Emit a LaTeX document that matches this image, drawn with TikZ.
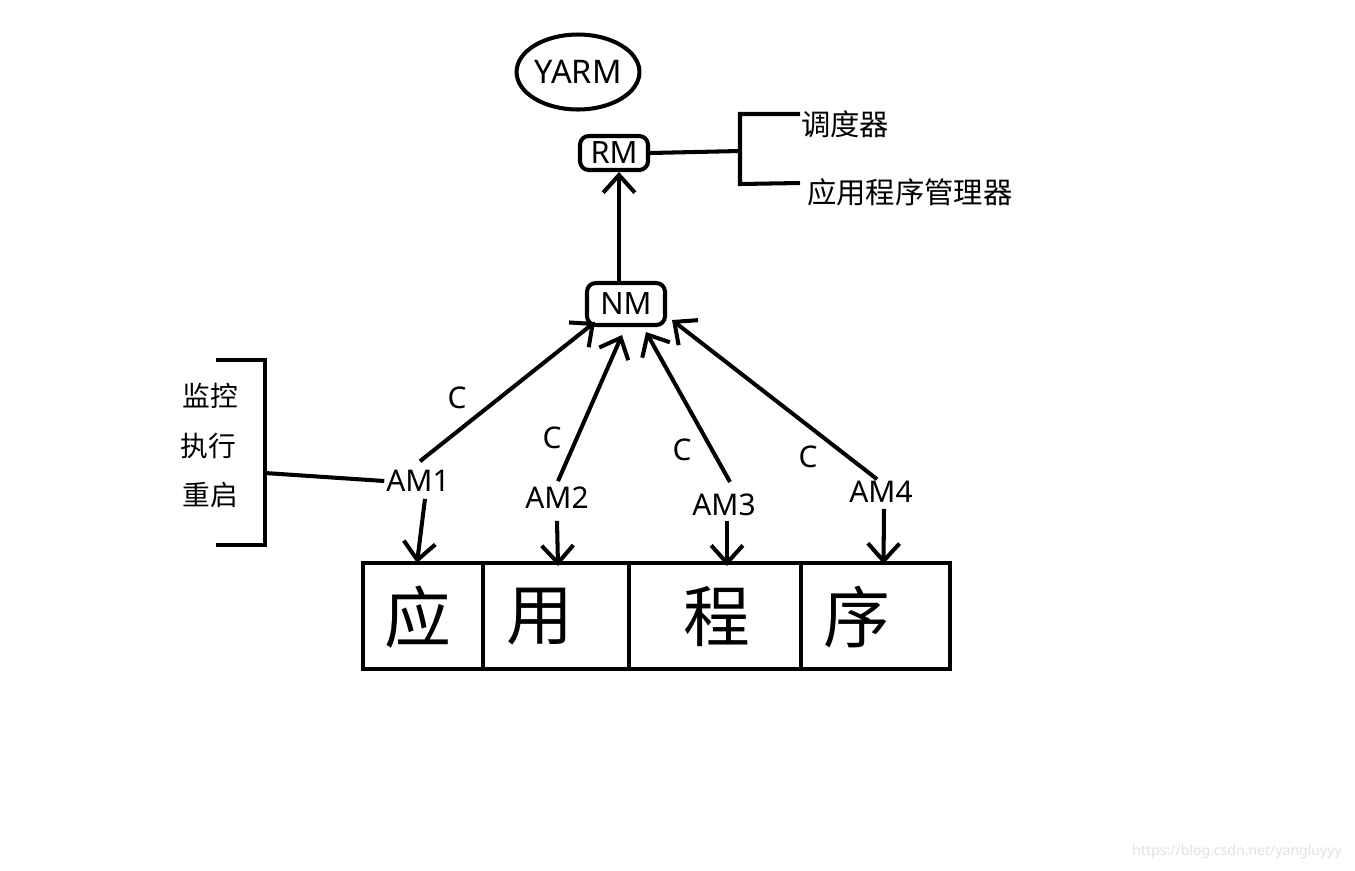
\documentclass[tikz,border=0pt]{standalone}
\usepackage{fontspec}
\setmainfont{Noto Sans}
\newfontfamily\cjk{Noto Sans CJK SC}
\usepackage{tikz}
\usetikzlibrary{positioning}
\usetikzlibrary{shapes.geometric}
\usetikzlibrary{arrows.meta}

\begin{document}
\begin{tikzpicture}[x=0.02cm, y=-0.02cm,
ovalnode/.style={ellipse, draw=black, line width=2.3pt, inner sep=0pt, minimum width=2.44cm, minimum height=1.5cm, font=\fontsize{18.5}{21}\selectfont},
roundnode/.style={rectangle, rounded corners=5pt, draw=black, line width=2.3pt, inner sep=0pt, font=\fontsize{17.5}{20}\selectfont},
amnode/.style={inner sep=1pt, font=\fontsize{17}{20}\selectfont},
cnode/.style={inner sep=1pt, font=\fontsize{17}{20}\selectfont},
cjknode/.style={inner sep=1pt, font=\cjk\fontsize{16.7}{19}\selectfont},
cellnode/.style={rectangle, draw=black, line width=2.3pt, minimum height=2.12cm, inner sep=0pt},
bigchar/.style={inner sep=0pt, font=\cjk\fontsize{38}{40}\selectfont},
arr/.style={line width=2.3pt, -{Straight Barb[length=10pt,width=18pt,line width=2.3pt]}},
thickline/.style={line width=2.3pt},
]
\useasboundingbox (0,0) rectangle (1355,870);

% Top nodes
\node[ovalnode]  (yarm) at (578,72)  {YARM};
\node[roundnode, minimum width=1.36cm, minimum height=0.68cm] (rm) at (614,153) {RM};
\node[roundnode, minimum width=1.56cm, minimum height=0.84cm] (nm) at (626,304) {NM};

% RM parts
\coordinate (rb) at (740,151);
\draw[thickline] (800,114) -- (740,114) -- (740,184) -- (800,183);
\node[cjknode, anchor=west] (sched)  at (799,124) {调度器};
\node[cjknode, anchor=west] (appmgr) at (805,192) {应用程序管理器};

% AM nodes
\node[amnode] (am1) at (418,481) {AM1};
\node[amnode] (am2) at (557,498) {AM2};
\node[amnode] (am3) at (724,505) {AM3};
\node[amnode] (am4) at (881,492) {AM4};

\node[cnode] (c1) at (457,398) {C};
\node[cnode] (c2) at (552,438) {C};
\node[cnode] (c3) at (682,450) {C};
\node[cnode] (c4) at (808,457) {C};

% AM tasks
\coordinate (lb) at (265,473);
\draw[thickline] (216,360) -- (265,360) -- (265,545) -- (216,545);
\node[cjknode, font=\cjk\fontsize{15.8}{18}\selectfont] (watch)   at (210,396) {监控};
\node[cjknode, font=\cjk\fontsize{15.8}{18}\selectfont] (run)     at (208,446) {执行};
\node[cjknode, font=\cjk\fontsize{15.8}{18}\selectfont] (restart) at (210,495) {重启};

% Application cells
\node[cellnode, minimum width=2.4cm]  (cell1) at (423,616) {};
\node[cellnode, minimum width=2.92cm] (cell2) at (556,616) {};
\node[cellnode, minimum width=3.44cm] (cell3) at (715,616) {};
\node[cellnode, minimum width=2.98cm] (cell4) at (875.5,616) {};
\node[bigchar] (ying)  at (418,617) {应};
\node[bigchar] (yong)  at (540,617) {用};
\node[bigchar] (cheng) at (717,617) {程};
\node[bigchar] (xu)    at (857,617) {序};

\node[text=black!12, inner sep=0pt, font=\fontsize{8}{10}\selectfont] (watermark) at (1237,852) {https://blog.csdn.net/yangluyyy};

\draw[thickline] (rm.east) -- (rb);
\draw[thickline] (am1.west) -- (lb);
\draw[arr] ([shift={(-7,0)}]nm.north) -- ([shift={(5,0)}]rm.south);
\draw[arr] ([shift={(2,-7)}]am1.north) -- ([shift={(10,-5)}]nm.south west);
\draw[arr] ([shift={(1,-4)}]am2.north) -- ([shift={(-4,8)}]nm.south);
\draw[arr] ([shift={(6,-10)}]am3.north) -- ([shift={(20,5)}]nm.south);
\draw[arr] ([shift={(-4,0)}]am4.north) -- ([shift={(5,-7)}]nm.south east);
\draw[arr] ([shift={(7,5)}]am1.south) -- ([shift={(-6,2)}]cell1.north);
\draw[arr] ([shift={(0,10)}]am2.south) -- ([shift={(2,5)}]cell2.north);
\draw[arr] ([shift={(3,3)}]am3.south) -- ([shift={(12,5)}]cell3.north);
\draw[arr] ([shift={(3,4)}]am4.south) -- ([shift={(8,3)}]cell4.north);
\end{tikzpicture}
\end{document}
